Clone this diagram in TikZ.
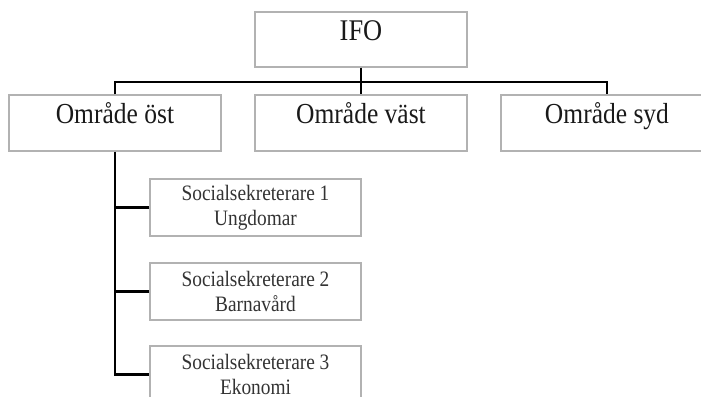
\documentclass[tikz,border=0pt]{standalone}
\usepackage{fontspec}
\newfontfamily\boxfont[FakeStretch=0.88]{Liberation Serif}
\begin{document}
\begin{tikzpicture}[x=1pt,y=-1pt,
  box/.style={draw=gray!60, line width=1.3pt, rectangle, inner sep=0pt, font=\boxfont, text=black!90},
  topbox/.style={box, minimum width=212pt, minimum height=55pt, font=\boxfont\fontsize{30}{36}\selectfont, text height=15pt, text depth=12pt},
  areabox/.style={box, minimum width=212pt, minimum height=56pt, font=\boxfont\fontsize{29}{34}\selectfont, text height=12pt, text depth=12pt},
  staffbox/.style={box, minimum width=211pt, minimum height=57pt, align=center, font=\boxfont\fontsize{22}{25}\selectfont, text=black!80},
  conn/.style={draw=black, line width=2.6pt}]
\useasboundingbox (0,0) rectangle (701,396);
\clip (0,0) rectangle (701,396);
\node[topbox] (ifo) at (361,39.5) {IFO};
\node[areabox] (ost) at (115,123) {Område öst};
\node[areabox] (vast) at (361,123) {Område väst};
\node[areabox] (syd) at (607,123) {Område syd};
\node[staffbox] (s1) at (255.5,207.5) {Socialsekreterare 1\\Ungdomar};
\node[staffbox] (s2) at (255.5,291.5) {Socialsekreterare 2\\Barnavård};
\node[staffbox] (s3) at (255.5,374.5) {Socialsekreterare 3\\Ekonomi};
\coordinate (bar) at (361,82);
\draw[conn] (ifo.south) -- (bar);
\draw[conn] (ost.north) |- (bar) -| (syd.north);
\draw[conn] (bar) -- (vast.north);
\draw[conn] (ost.south) |- (s3.west);
\draw[conn] (s1.west) -- (s1.west -| ost.south);
\draw[conn] (s2.west) -- (s2.west -| ost.south);
\end{tikzpicture}
\end{document}
